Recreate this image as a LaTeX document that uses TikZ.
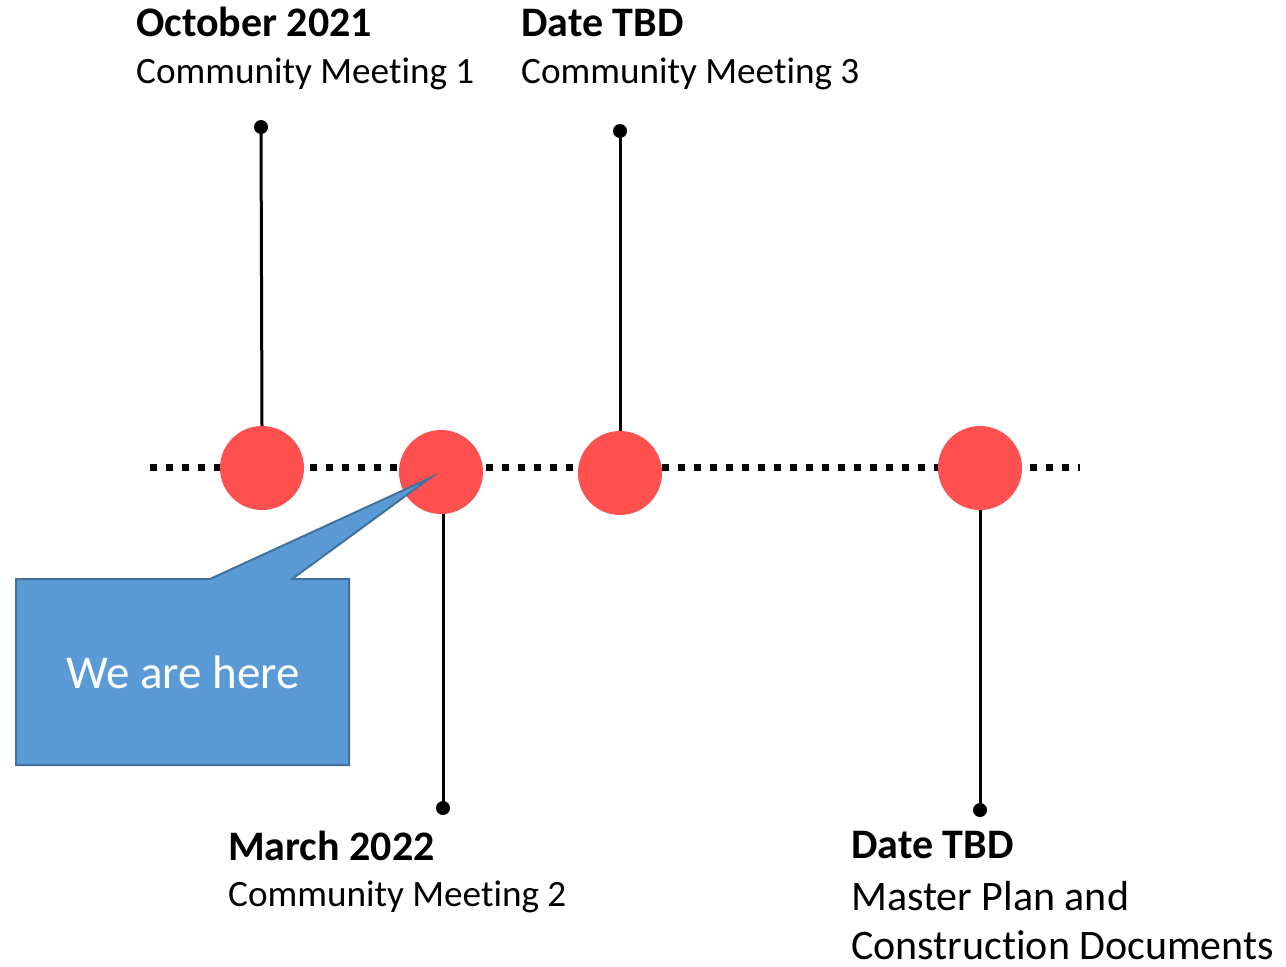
\documentclass[tikz,border=0pt]{standalone}
\usepackage{fontspec}
\setmainfont{Carlito}[Ligatures=NoCommon]
\definecolor{dotred}{RGB}{255,80,80}
\definecolor{callfill}{RGB}{91,155,213}
\definecolor{calldraw}{RGB}{65,113,156}
\begin{document}
\begin{tikzpicture}[x=1pt,y=-1pt,
  milestone/.style={circle,fill=dotred,minimum size=84pt,inner sep=0pt},
  stem/.style={line width=3pt},
  pin/.style={circle,fill=black,minimum size=14pt,inner sep=0pt},
  datetext/.style={anchor=base west,inner sep=0pt,font=\fontsize{42}{48}\selectfont\bfseries},
  desctext/.style={anchor=base west,inner sep=0pt,font=\fontsize{37.2}{44}\selectfont},
  bigdesc/.style={anchor=base west,inner sep=0pt,font=\fontsize{42}{50}\selectfont},
  timeline/.style={line width=7pt,dash pattern=on 7pt off 9pt}]
\useasboundingbox (0,0) rectangle (1286,967);
% timeline
\coordinate (tl0) at (150,467);
\coordinate (tl1) at (1080,467);
\draw[timeline] (tl0) -- (tl1);
% milestones
\node[milestone] (m1) at (262,468) {};
\node[milestone] (m2) at (441,472) {};
\node[milestone] (m3) at (620,473) {};
\node[milestone] (m4) at (980,468) {};
% pins
\node[pin] (p1) at (261,127) {};
\node[pin] (p2) at (443,808) {};
\node[pin] (p3) at (620,131) {};
\node[pin] (p4) at (980,810) {};
\draw[stem] (p1.center) -- (m1.north);
\draw[stem] (p3.center) -- (m3.north);
\draw[stem] (m2.south -| p2) -- (p2.center);
\draw[stem] (m4.south) -- (p4.center);
% texts
\node[datetext] (d1) at (136,36) {October 2021};
\node[desctext] (t1) at (136,83) {Community Meeting 1};
\node[datetext] (d3) at (521,36) {Date TBD};
\node[desctext] (t3) at (521,83) {Community Meeting 3};
\node[datetext] (d2) at (228,860) {March 2022};
\node[desctext] (t2) at (228,906) {Community Meeting 2};
\node[datetext] (d4) at (851,858) {Date TBD};
\node[bigdesc] (t4a) at (851,910) {Master Plan and};
\node[bigdesc] (t4b) at (851,959) {Construction Documents};
% callout
\coordinate (c1) at (16,579);
\coordinate (c2) at (210,579);
\coordinate (ctip) at (430,478);
\coordinate (c3) at (292,579);
\coordinate (c4) at (349,579);
\coordinate (c5) at (349,765);
\coordinate (c6) at (16,765);
\draw[fill=callfill,draw=calldraw,line width=2pt,line join=miter]
  (c1) -- (c2) -- (ctip) -- (c3) -- (c4) -- (c5) -- (c6) -- cycle;
\node[text=white,font=\fontsize{47}{54}\selectfont] (call) at (183,672) {We are here};
\end{tikzpicture}
\end{document}
